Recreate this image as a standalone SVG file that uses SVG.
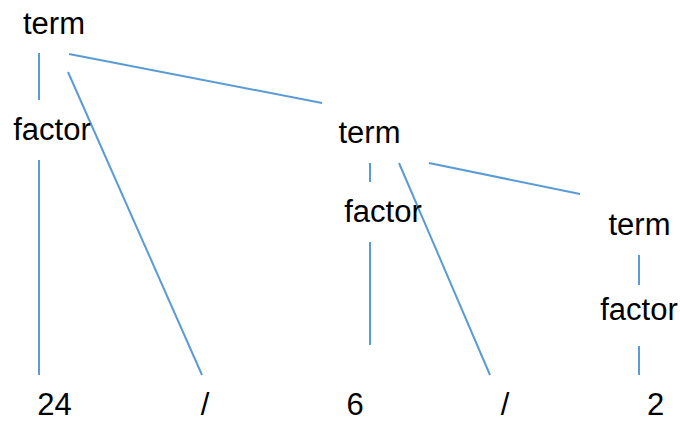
<svg xmlns="http://www.w3.org/2000/svg" width="680" height="422" viewBox="0 0 680 422">
<style>
text{font-family:"Liberation Sans",Arial,sans-serif;font-size:31px;fill:#000;text-anchor:middle}
.e line{stroke:#5B9BD5;stroke-width:2;fill:none}
</style>
<rect width="680" height="422" fill="#fff"/>
<g class="e" id="connectors">
<line x1="39" y1="53" x2="39" y2="100"/>
<line x1="68" y1="72" x2="202" y2="375"/>
<line x1="69" y1="54" x2="322" y2="103"/>
<line x1="39" y1="160" x2="39" y2="375"/>
<line x1="370" y1="163" x2="370" y2="182"/>
<line x1="399" y1="163" x2="490" y2="375"/>
<line x1="429" y1="163" x2="580" y2="194"/>
<line x1="370" y1="242" x2="370" y2="345"/>
<line x1="639" y1="255" x2="639" y2="285"/>
<line x1="639" y1="346" x2="639" y2="375"/>
</g>
<g id="term1"><text x="54" y="34">term</text></g>
<g id="factor1"><text x="52" y="140">factor</text></g>
<g id="term2"><text x="369.5" y="143">term</text></g>
<g id="factor2"><text x="383" y="222">factor</text></g>
<g id="term3"><text x="639.5" y="235">term</text></g>
<g id="factor3"><text x="639" y="320">factor</text></g>
<g id="n24"><text x="54.5" y="415">24</text></g>
<g id="slash1"><text x="205" y="415">/</text></g>
<g id="n6"><text x="355" y="415">6</text></g>
<g id="slash2"><text x="505" y="415">/</text></g>
<g id="n2"><text x="655.5" y="415">2</text></g>
</svg>
